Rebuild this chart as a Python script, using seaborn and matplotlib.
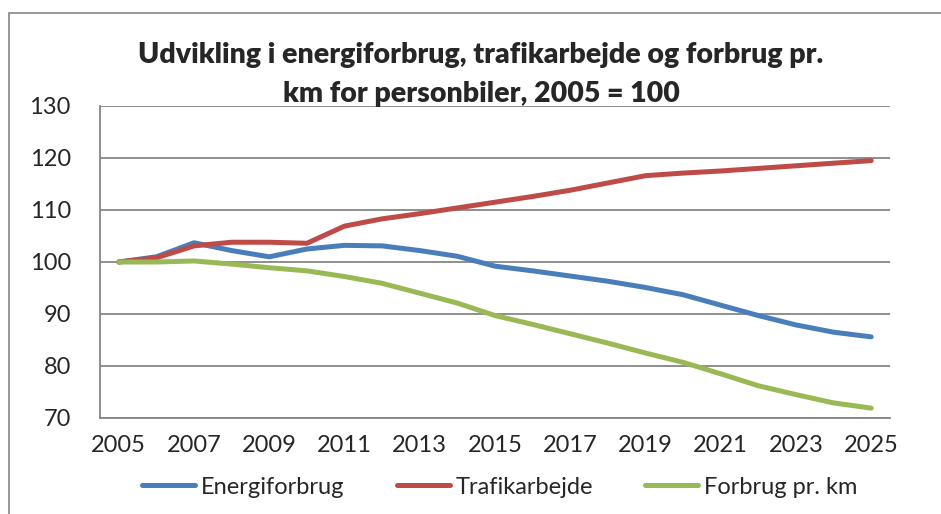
import seaborn as sns
import matplotlib.pyplot as plt
import matplotlib.patches as mpatches
import pandas as pd
import numpy as np

# data (index, 2005 = 100)
years = list(range(2005, 2026))
energiforbrug = [100.0, 101.0, 103.7, 102.2, 101.0, 102.5, 103.2, 103.1, 102.2, 101.1, 99.2,
                 98.3, 97.3, 96.3, 95.1, 93.7, 91.7, 89.7, 87.9, 86.5, 85.6]
trafikarbejde = [100.0, 100.8, 103.1, 103.8, 103.8, 103.6, 106.9, 108.3, 109.3, 110.4, 111.5,
                 112.6, 113.8, 115.2, 116.6, 117.1, 117.5, 118.0, 118.5, 119.0, 119.5]
forbrug_km = [100.0, 100.0, 100.2, 99.6, 98.9, 98.3, 97.2, 95.9, 94.0, 92.1, 89.7,
              88.0, 86.2, 84.4, 82.5, 80.7, 78.5, 76.2, 74.5, 72.9, 71.9]
series_names = ['Energiforbrug', 'Trafikarbejde', 'Forbrug pr. km']
colors = ['#4A7EBB', '#BE4B48', '#98B954']

data = pd.DataFrame({'year': years,
                     series_names[0]: energiforbrug,
                     series_names[1]: trafikarbejde,
                     series_names[2]: forbrug_km})
long = data.melt(id_vars='year', var_name='serie', value_name='index')

sns.set_style('white')
plt.rcParams['font.family'] = ['Lato', 'DejaVu Sans']

W, H = 941, 514
fig = plt.figure(figsize=(W / 100, H / 100), dpi=100)
ax = fig.add_axes([100 / W, (H - 418) / H, 790 / W, 312 / H])

grid_col = '#868686'

sns.lineplot(data=long, x='year', y='index', hue='serie', hue_order=series_names,
             palette=colors, linewidth=3.6, ax=ax, legend=True)
for line in ax.get_lines():
    line.set_solid_capstyle('round')

ax.set_xlim(2004.5, 2025.5)
ax.set_ylim(70, 130)
ax.set_yticks(range(70, 131, 10))
ax.set_xticks(years[::2])
ax.set_xticks(np.arange(2004.5, 2025, 2), minor=True)
ax.tick_params(axis='x', which='major', length=0, labelsize=17, pad=12)
ax.tick_params(axis='x', which='minor', length=7, width=1.3, color=grid_col, direction='out')
ax.tick_params(axis='y', length=7, width=1.3, color=grid_col, direction='out',
               labelsize=17, pad=14)
ax.yaxis.grid(True, color=grid_col, linewidth=1.3)
ax.set_axisbelow(True)
for s in ['top', 'right']:
    ax.spines[s].set_visible(False)
for s in ['left', 'bottom']:
    ax.spines[s].set_color(grid_col)
    ax.spines[s].set_linewidth(1.3)
ax.set_xlabel('')
ax.set_ylabel('')

handles, labels = ax.get_legend_handles_labels()
ax.legend(handles, labels, loc='center', bbox_to_anchor=(500 / W, (H - 487) / H),
          bbox_transform=fig.transFigure, ncol=3, frameon=False, fontsize=17,
          handlelength=2.25, handletextpad=0.25, columnspacing=2.2, borderaxespad=0)

fig.text(481 / W, 1 - 55 / H, 'Udvikling i energiforbrug, trafikarbejde og forbrug pr.',
         ha='center', va='center', fontsize=20.5, fontweight='heavy')
fig.text(481 / W, 1 - 94 / H, 'km for personbiler, 2005 = 100',
         ha='center', va='center', fontsize=20.5, fontweight='heavy')

# chart frame
fig.patches.append(mpatches.Rectangle((9 / W, -0.1), 1.2, 1 - 13 / H + 0.1,
                                      transform=fig.transFigure, fill=False,
                                      edgecolor=grid_col, linewidth=1.2))

fig.savefig('out.png', dpi=100)
